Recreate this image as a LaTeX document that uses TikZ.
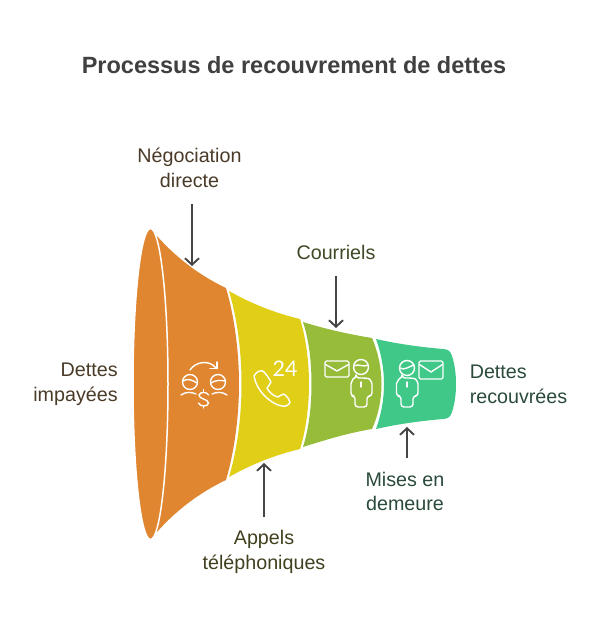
\documentclass[tikz,border=0pt]{standalone}
\usepackage{fontspec}
\setmainfont{Liberation Sans}
\newfontfamily\numfont{Lato}
\usetikzlibrary{arrows.meta}
\definecolor{orangeF}{HTML}{E08530}
\definecolor{yellowF}{HTML}{E0CE17}
\definecolor{greenF}{HTML}{96BC3A}
\definecolor{tealF}{HTML}{3FC888}
\definecolor{arrowC}{HTML}{454545}
\definecolor{titleC}{HTML}{404040}
\definecolor{txtO}{HTML}{4A3A28}
\definecolor{txtY}{HTML}{42401F}
\definecolor{txtG}{HTML}{3D4A25}
\definecolor{txtT}{HTML}{2A4A3A}
\tikzset{
  x=1pt,y=-1pt,
  lbl/.style={align=center,font=\fontsize{19.7}{24.5}\selectfont,inner sep=0pt},
  conn/.style={draw=arrowC,line width=1.9pt,-{Straight Barb[length=6.5pt,width=14pt,line width=1.9pt]}},
  icon/.style={draw=white,line width=1.4pt,line cap=round,line join=round,fill=none}
}
\begin{document}
\begin{tikzpicture}
\useasboundingbox (0,0) rectangle (600,624);
\fill[white] (0,0) rectangle (600,624);
% funnel
\fill[orangeF] (150,236) -- (157,236) .. controls (180,262) and (205,278) .. (226,288)
  .. controls (234,315) and (239,350) .. (239,384) .. controls (239,418) and (234,453) .. (226,480)
  .. controls (205,490) and (180,506) .. (157,532) -- (150,532) -- cycle;
\fill[orangeF,draw=white,line width=1.5pt] (150.5,384) ellipse [x radius=17.5,y radius=155.5];
\fill[yellowF] (229,291) .. controls (252,304) and (275,313) .. (300,319)
  .. controls (306,338) and (309,362) .. (309,384) .. controls (309,406) and (306,430) .. (300,449)
  .. controls (275,455) and (252,464) .. (229,477)
  .. controls (237,450) and (241.5,418) .. (241.5,384) .. controls (241.5,350) and (237,318) .. (229,291) -- cycle;
\fill[greenF] (303,322) .. controls (325,329) and (348,334) .. (372,338)
  .. controls (378,352) and (381.5,368) .. (381.5,384) .. controls (381.5,400) and (378,416) .. (372,429)
  .. controls (348,433) and (325,440) .. (303,447)
  .. controls (309,428) and (311.5,406) .. (311.5,384) .. controls (311.5,362) and (309,340) .. (303,322) -- cycle;
\fill[tealF] (376,339) .. controls (398,344) and (420,347) .. (443,349)
  .. controls (449,349.5) and (450,351) .. (452,356)
  .. controls (455,365) and (456,375) .. (456,384) .. controls (456,393) and (455,403) .. (452,412)
  .. controls (450,417) and (449,418.5) .. (443,419)
  .. controls (420,421) and (398,424) .. (376,429)
  .. controls (381,415) and (384,400) .. (384,384) .. controls (384,368) and (381,353) .. (376,339) -- cycle;
% icon: negotiation
\draw[icon] (190,382) circle [radius=7.5];
\draw[icon] (218,382) circle [radius=7.5];
\draw[icon] (183,381) .. controls (188,378) and (192,380) .. (197,383);
\draw[icon] (211,383) .. controls (216,380) and (220,380) .. (225,381);
\draw[icon] (181,395) .. controls (185,392) and (191,391.5) .. (196,394);
\draw[icon] (212,394) .. controls (217,391.5) and (223,392) .. (227,395);
\draw[icon] (190,370) .. controls (195,362) and (209,359) .. (216,368);
\draw[icon] (217,368.5) -- (217,362);
\draw[icon] (217,368.5) -- (210,368.5);
\draw[icon] (208.5,395) .. controls (207,391.5) and (200,391.5) .. (199,395) .. controls (198.5,399) and (208.5,399) .. (208.5,403) .. controls (208,407) and (200,407) .. (198.5,403);
\draw[icon] (203.5,389.5) -- (203.5,392);
\draw[icon] (203.5,406) -- (203.5,408);
% icon: phone
\draw[icon] (254,376) .. controls (256,372) and (260,370) .. (263,371)
  .. controls (266,374) and (269,378) .. (271,382) .. controls (270,385) and (268,386) .. (267,388)
  .. controls (269,392) and (273,396) .. (278,397) .. controls (280,396) and (282,394) .. (284,394)
  .. controls (287,396) and (289,399) .. (290,402) .. controls (289,405) and (286,407) .. (282,406)
  .. controls (270,404) and (256,390) .. (254,376) -- cycle;
\node[text=white,inner sep=0pt,anchor=base west,font=\numfont\fontsize{21.5}{21.5}\selectfont] (num) at (272.5,376) {24};
% icon: envelope + person (green)
\draw[icon,rounded corners=1.5pt] (325,361) rectangle (349,377);
\draw[icon] (325.5,364.5) -- (337,371) -- (348.5,364.5);
\draw[icon] (361,367) circle [radius=7.5];
\draw[icon] (354,366) .. controls (358,363) and (364,368) .. (368,365);
\draw[icon,rounded corners=3pt] (356,378) -- (366,378) .. controls (370,379) and (372,383) .. (372,387) -- (372,396) -- (367,396) -- (367,407) -- (355,407) -- (355,396) -- (351,396) -- (351,387) .. controls (351,383) and (353,379) .. (356,378) -- cycle;
\draw[icon] (361,382) -- (361,387);
% icon: person + envelope (teal)
\draw[icon] (407,368) circle [radius=7.5];
\draw[icon] (400,368) .. controls (404,371) and (410,366) .. (414,365);
\draw[icon,rounded corners=3pt] (402,378) -- (412,378) .. controls (416,379) and (418,383) .. (418,387) -- (418,396) -- (413,396) -- (413,407) -- (401,407) -- (401,396) -- (396.5,396) -- (396.5,387) .. controls (396.5,383) and (399,379) .. (402,378) -- cycle;
\draw[icon] (407,382) -- (407,387);
\draw[icon,rounded corners=1.5pt] (419,361) rectangle (443,379);
\draw[icon] (419.5,364.5) -- (431,372) -- (442.5,364.5);
% texts
\node[font=\bfseries\fontsize{23.5}{28}\selectfont,text=titleC,inner sep=0pt] (title) at (294,65) {Processus de recouvrement de dettes};
\node[lbl,text=txtO] (nego) at (189.5,168) {Négociation\\directe};
\node[lbl,text=txtY] (appels) at (264,552) {Appels\\téléphoniques};
\node[lbl,text=txtG] (courriels) at (336,252.5) {Courriels};
\node[lbl,text=txtT] (mises) at (405,491.5) {Mises en\\demeure};
\node[lbl,text=txtO,align=right] (impayees) at (75.5,384.5) {Dettes\\impayées};
\node[lbl,text=txtT,align=left] (recouvrees) at (518.5,384.5) {Dettes\\recouvrées};
% connectors
\coordinate (negoS) at (192,204);\coordinate (negoE) at (192,266);
\coordinate (courS) at (336,276);\coordinate (courE) at (336,328);
\coordinate (appS) at (264,517);\coordinate (appE) at (264,463);
\coordinate (misS) at (407,458);\coordinate (misE) at (407,427);
\draw[conn] (negoS) -- (negoE);
\draw[conn] (courS) -- (courE);
\draw[conn] (appS) -- (appE);
\draw[conn] (misS) -- (misE);
\end{tikzpicture}
\end{document}
